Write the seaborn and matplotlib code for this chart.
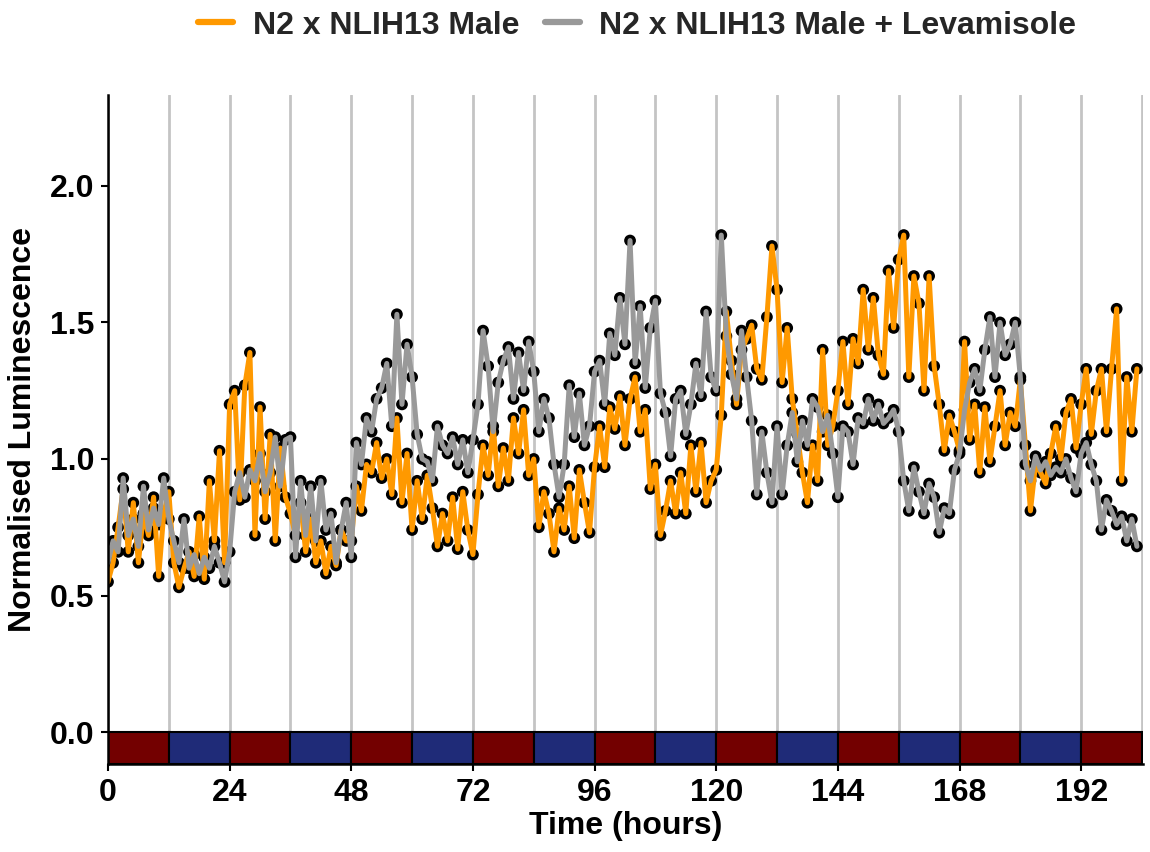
import numpy as np
import pandas as pd
import matplotlib
matplotlib.use("Agg")
import matplotlib.pyplot as plt
from matplotlib.lines import Line2D
import seaborn as sns

# ---------------- data ----------------
time_hours = list(range(204))

male = [
    0.55, 0.62, 0.75, 0.89, 0.66, 0.84, 0.62, 0.80, 0.72, 0.86, 0.57, 0.80,
    0.88, 0.62, 0.53, 0.60, 0.66, 0.57, 0.79, 0.56, 0.92, 0.70, 1.03, 0.62,
    1.20, 1.25, 0.85, 1.27, 1.39, 0.72, 1.19, 0.78, 1.09, 0.70, 1.04, 0.86,
    0.80, 0.72, 0.84, 0.66, 0.78, 0.62, 0.70, 0.58, 0.68, 0.61, 0.74, 0.70,
    0.70, 0.90, 0.81, 0.98, 0.95, 1.06, 0.93, 1.00, 0.87, 1.15, 0.84, 1.02,
    0.74, 0.92, 0.78, 0.94, 0.82, 0.68, 0.80, 0.70, 0.86, 0.67, 0.88, 0.74,
    0.65, 0.87, 1.05, 0.94, 1.12, 0.90, 1.04, 0.92, 1.15, 1.02, 1.18, 0.94,
    1.00, 0.75, 0.88, 0.80, 0.66, 0.82, 0.74, 0.90, 0.71, 0.96, 0.84, 0.73,
    0.97, 1.12, 0.97, 1.19, 1.11, 1.23, 1.05, 1.22, 1.30, 1.10, 1.18, 0.89,
    0.98, 0.72, 0.81, 0.92, 0.80, 0.95, 0.80, 1.05, 0.88, 1.06, 0.84, 0.92,
    0.96, 1.16, 1.54, 1.36, 1.20, 1.40, 1.44, 1.49, 1.33, 1.29, 1.52, 1.78,
    1.62, 1.28, 1.48, 1.22, 1.09, 0.95, 0.84, 1.05, 0.92, 1.40, 1.05, 1.12,
    1.25, 1.43, 1.20, 1.44, 1.35, 1.62, 1.40, 1.59, 1.38, 1.31, 1.69, 1.48,
    1.73, 1.82, 1.30, 1.67, 1.57, 1.25, 1.67, 1.34, 1.20, 1.03, 1.16, 1.10,
    1.03, 1.43, 1.07, 1.20, 0.95, 1.19, 0.99, 1.12, 1.25, 1.05, 1.17, 1.12,
    1.29, 1.05, 0.81, 0.98, 0.95, 0.91, 1.02, 1.12, 1.00, 1.17, 1.22, 1.04,
    1.20, 1.33, 1.09, 1.25, 1.33, 1.10, 1.33, 1.55, 0.92, 1.30, 1.10, 1.33,
]

male_levamisole = [
    0.62, 0.70, 0.66, 0.93, 0.72, 0.78, 0.68, 0.90, 0.74, 0.82, 0.76, 0.93,
    0.78, 0.70, 0.62, 0.78, 0.60, 0.65, 0.58, 0.64, 0.60, 0.68, 0.62, 0.55,
    0.66, 0.88, 0.95, 0.86, 0.96, 0.92, 1.02, 0.88, 0.95, 1.08, 0.90, 1.07,
    1.08, 0.64, 0.92, 0.72, 0.90, 0.70, 0.92, 0.74, 0.80, 0.62, 0.74, 0.84,
    0.64, 1.06, 0.98, 1.15, 1.10, 1.22, 1.26, 1.35, 1.12, 1.53, 1.20, 1.42,
    1.30, 1.09, 1.00, 0.99, 0.92, 1.12, 1.05, 1.02, 1.08, 0.98, 1.07, 0.95,
    1.07, 1.20, 1.47, 1.34, 1.10, 1.28, 1.36, 1.41, 1.22, 1.39, 1.25, 1.43,
    1.32, 1.10, 1.22, 1.15, 0.98, 0.86, 0.98, 1.27, 1.08, 1.24, 1.05, 1.12,
    1.32, 1.36, 1.20, 1.46, 1.38, 1.59, 1.42, 1.80, 1.35, 1.56, 1.26, 1.48,
    1.58, 1.24, 1.17, 1.01, 1.22, 1.25, 1.09, 1.20, 1.35, 1.23, 1.54, 1.30,
    1.25, 1.82, 1.45, 1.31, 1.22, 1.47, 1.30, 1.14, 0.87, 1.10, 0.95, 0.84,
    1.12, 0.87, 1.05, 1.17, 0.99, 1.14, 1.05, 1.22, 1.19, 1.10, 1.16, 1.02,
    0.86, 1.12, 1.10, 0.98, 1.15, 1.13, 1.22, 1.14, 1.20, 1.13, 1.15, 1.18,
    1.10, 0.92, 0.81, 0.97, 0.88, 0.80, 0.91, 0.86, 0.73, 0.82, 0.80, 0.96,
    1.02, 1.18, 1.28, 1.33, 1.25, 1.40, 1.52, 1.30, 1.50, 1.38, 1.42, 1.50,
    1.30, 0.98, 0.92, 1.01, 0.96, 0.99, 0.94, 0.97, 0.95, 1.00, 0.93, 0.88,
    1.02, 1.06, 0.98, 0.92, 0.74, 0.85, 0.81, 0.76, 0.79, 0.70, 0.78, 0.68,
]

series_names = ["N2 x NLIH13 Male", "N2 x NLIH13 Male + Levamisole"]
series_colours = ["#FF9900", "#999999"]

ld_starts = [0, 12, 24, 36, 48, 60, 72, 84, 96, 108, 120, 132, 144, 156, 168, 180, 192]
ld_phase = ["light", "dark"] * 8 + ["light"]
ld_colours = {"light": "#730000", "dark": "#1F2B78"}

x_ticks = [0, 24, 48, 72, 96, 120, 144, 168, 192]
y_ticks = [0.0, 0.5, 1.0, 1.5, 2.0]

# ---------------- figure ----------------
sns.set_theme(style="white")
plt.rcParams["font.family"] = ["Liberation Sans", "DejaVu Sans"]
plt.rcParams["font.weight"] = "bold"

df = pd.DataFrame({
    "time": time_hours * 2,
    "lum": male + male_levamisole,
    "series": [series_names[0]] * len(male) + [series_names[1]] * len(male_levamisole),
})

fig = plt.figure(figsize=(11.5, 8.52), dpi=100)
ax = fig.add_axes([0.0939, 0.1033, 0.9, 0.7852])

y_min, y_max = -0.117, 2.333
x_max = 204.2

# points (black, behind lines)
sns.scatterplot(data=df, x="time", y="lum", color="black", s=72,
                edgecolor="none", legend=False, ax=ax, zorder=3)
# lines
for name, col in zip(series_names, series_colours):
    sub = df[df["series"] == name]
    sns.lineplot(data=sub, x="time", y="lum", color=col, linewidth=3.6,
                 estimator=None, sort=False, legend=False, ax=ax, zorder=4)

# light/dark bars
bar_w = [min(12, x_max - s) for s in ld_starts]
ax.bar(ld_starts, [0 - y_min] * len(ld_starts), width=bar_w, bottom=y_min,
       align="edge", color=[ld_colours[p] for p in ld_phase],
       edgecolor="black", linewidth=1.5, zorder=5)

ax.set_xlim(0, x_max)
ax.set_ylim(y_min, y_max)
ax.set_xticks(x_ticks)
ax.set_xticks(list(range(12, 205, 24)), minor=True)
ax.set_yticks(y_ticks)
ax.set_yticklabels([f"{v:.1f}" for v in y_ticks])
ax.set_xticklabels([str(v) for v in x_ticks])

ax.grid(False)
ax.xaxis.grid(True, which="both", color="#C4C4C4", linewidth=2.0)
ax.set_axisbelow(True)

for s in ["top", "right"]:
    ax.spines[s].set_visible(False)
for s in ["left", "bottom"]:
    ax.spines[s].set_color("black")
    ax.spines[s].set_linewidth(1.8)
    ax.spines[s].set_zorder(6)

ax.tick_params(axis="both", which="major", direction="out", length=5, width=1.5,
               color="black", labelsize=23, labelcolor="black", pad=5,
               bottom=True, left=True)
ax.tick_params(axis="x", which="minor", length=0)
for lab in ax.get_xticklabels() + ax.get_yticklabels():
    lab.set_fontweight("bold")

ax.set_xlabel("Time (hours)", fontsize=23, fontweight="bold", color="black", labelpad=2)
ax.set_ylabel("Normalised Luminescence", fontsize=23, fontweight="bold", color="black", labelpad=8)

handles = [Line2D([0], [0], color=c, linewidth=4.5) for c in series_colours]
fig.legend(handles, series_names, loc="center", bbox_to_anchor=(0.554, 0.97),
           ncol=2, frameon=False, handlelength=1.1, handletextpad=0.6,
           columnspacing=0.8, prop={"size": 23, "weight": "bold"})

fig.savefig("out.png", dpi=100)
